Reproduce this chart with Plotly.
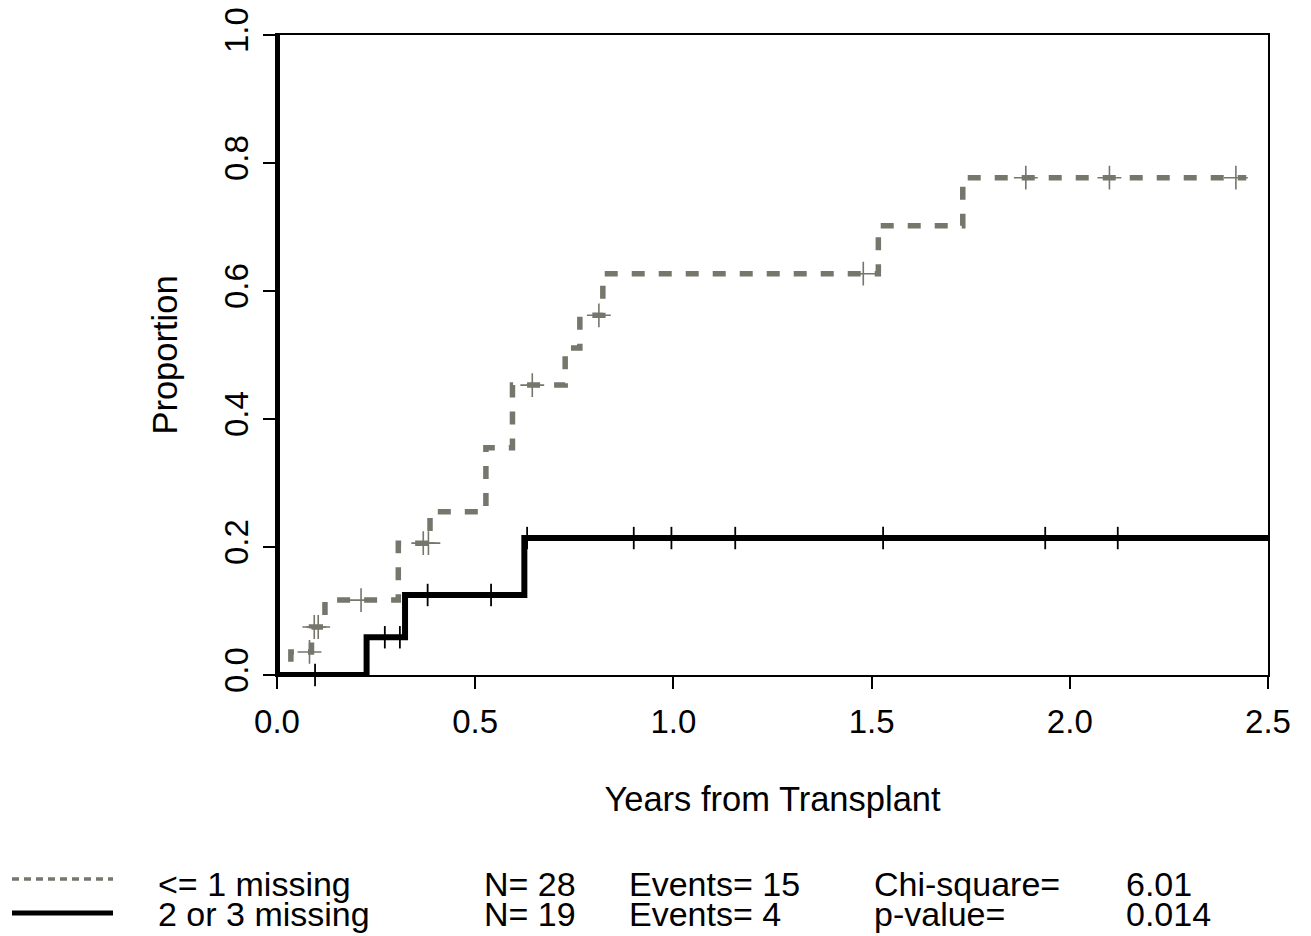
import plotly.graph_objects as go

# ---------------- data ----------------
# "<= 1 missing" group: step times and cumulative proportion
grp1_times = [0.0, 0.035, 0.087, 0.121, 0.306, 0.386, 0.527, 0.594, 0.727, 0.764, 0.822, 1.517, 1.730, 2.445]
grp1_vals = [0.0, 0.036, 0.075, 0.117, 0.206, 0.255, 0.355, 0.453, 0.511, 0.562, 0.627, 0.702, 0.777, 0.777]
grp1_cens_t = [0.082, 0.094, 0.104, 0.212, 0.369, 0.382, 0.644, 0.812, 1.479, 1.889, 2.100, 2.419]
grp1_cens_v = [0.036, 0.075, 0.075, 0.117, 0.206, 0.206, 0.453, 0.562, 0.627, 0.777, 0.777, 0.777]

# "2 or 3 missing" group (curve starts with a drop from 1.0 at time 0)
grp2_times = [0.0, 0.0, 0.226, 0.323, 0.624, 2.5]
grp2_vals = [1.0, 0.0, 0.059, 0.125, 0.214, 0.214]
grp2_cens_t = [0.096, 0.272, 0.310, 0.380, 0.540, 0.631, 0.900, 0.995, 1.156, 1.529, 1.938, 2.121]
grp2_cens_v = [0.0, 0.059, 0.059, 0.125, 0.125, 0.214, 0.214, 0.214, 0.214, 0.214, 0.214, 0.214]

x_ticks = [0.0, 0.5, 1.0, 1.5, 2.0, 2.5]
y_ticks = [0.0, 0.2, 0.4, 0.6, 0.8, 1.0]

legend_rows = [
    ["<= 1 missing", "N= 28", "Events= 15", "Chi-square=", "6.01"],
    ["2 or 3 missing", "N= 19", "Events= 4", "p-value=", "0.014"],
]

# ---------------- style ----------------
GRAY = "#76766c"
FONT = "Liberation Sans, Arial, sans-serif"
FS_TICK = 33
FS_LAB = 34.5
FS_LEG = 34
# page has an 8px body margin; figure is sized so the plot lands where the reference has it
W, H = 1303, 928
L, R, T, B = 269, 43, 27, 261
PW, PH = W - L - R, H - T - B
OFF = 8  # screen offset


def px(xs):
    return (xs - OFF - L) / PW


def py(ys):
    return (H - B - (ys - OFF)) / PH


fig = go.Figure()

fig.add_trace(go.Scatter(
    x=grp1_times, y=grp1_vals, mode="lines", line_shape="hv",
    line=dict(color=GRAY, width=5.5, dash="13px,14px"),
    cliponaxis=False, showlegend=False, hoverinfo="skip"))
fig.add_trace(go.Scatter(
    x=grp1_cens_t, y=grp1_cens_v, mode="markers",
    marker=dict(symbol="cross-thin", size=17, color=GRAY,
                line=dict(color=GRAY, width=1.6)),
    cliponaxis=False, showlegend=False, hoverinfo="skip"))

fig.add_trace(go.Scatter(
    x=grp2_times, y=grp2_vals, mode="lines", line_shape="hv",
    line=dict(color="black", width=6),
    cliponaxis=False, showlegend=False, hoverinfo="skip"))
fig.add_trace(go.Scatter(
    x=grp2_cens_t, y=grp2_cens_v, mode="markers",
    marker=dict(symbol="line-ns", size=16, color="black",
                line=dict(color="black", width=1.8)),
    cliponaxis=False, showlegend=False, hoverinfo="skip"))

axis_common = dict(
    showline=True, linecolor="black", linewidth=1.5, mirror=True,
    ticks="outside", ticklen=12, tickwidth=1.5, tickcolor="black",
    showgrid=False, zeroline=False,
    tickfont=dict(family=FONT, size=FS_TICK, color="black"),
    tickformat=".1f", ticklabeloverflow="allow",
)

fig.update_xaxes(range=[0, 2.5], tickvals=x_ticks, ticklabelstandoff=5,
                 title=dict(text="Years from Transplant", standoff=48,
                            font=dict(family=FONT, size=FS_LAB, color="black")),
                 **axis_common)
fig.update_yaxes(range=[0, 1], tickvals=y_ticks, tickangle=-90, ticklabelstandoff=2,
                 title=dict(text="Proportion", standoff=30,
                            font=dict(family=FONT, size=FS_LAB, color="black")),
                 **axis_common)

# legend block (drawn as shapes + text), positions in screen pixels
shapes = [
    dict(type="line", xref="paper", yref="paper",
         x0=px(12), x1=px(113), y0=py(879), y1=py(879),
         line=dict(color=GRAY, width=3.5, dash="7px,5px")),
    dict(type="line", xref="paper", yref="paper",
         x0=px(12), x1=px(113), y0=py(913), y1=py(913),
         line=dict(color="black", width=5)),
]
col_x = [156, 482, 627, 872, 1124]
row_y = [884, 914]
annotations = []
for r, row in enumerate(legend_rows):
    for c, txt in enumerate(row):
        annotations.append(dict(
            x=px(col_x[c]), y=py(row_y[r]), xref="paper", yref="paper",
            text=txt, showarrow=False, xanchor="left", yanchor="middle",
            font=dict(family=FONT, size=FS_LEG, color="black")))

fig.update_layout(
    width=W, height=H,
    margin=dict(l=L, r=R, t=T, b=B, autoexpand=False),
    paper_bgcolor="white", plot_bgcolor="white",
    shapes=shapes, annotations=annotations,
    showlegend=False,
)

fig.write_html("out.html")
